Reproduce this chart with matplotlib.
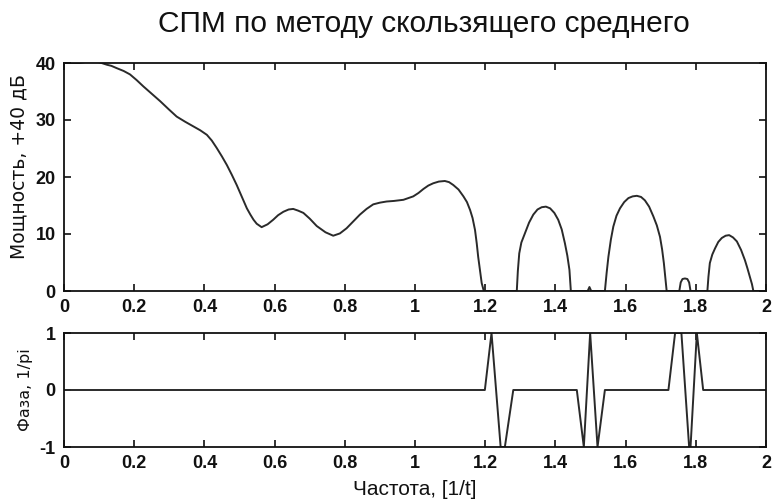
import numpy as np
import matplotlib.pyplot as plt
from matplotlib.ticker import FormatStrFormatter, MultipleLocator

plt.rcParams['font.family'] = ['Liberation Sans', 'DejaVu Sans']

# power spectrum, dB (+40), moving-average estimate
freq_p = [0.0, 0.02, 0.04, 0.046, 0.07, 0.09, 0.107, 0.122, 0.135, 0.150, 0.170,
          0.188, 0.207, 0.226, 0.250, 0.274, 0.298, 0.321, 0.345, 0.368, 0.388,
          0.407, 0.421, 0.435, 0.450, 0.464, 0.478, 0.492, 0.507, 0.521, 0.531,
          0.540, 0.549, 0.563, 0.580, 0.596, 0.610, 0.625, 0.640, 0.653, 0.667,
          0.682, 0.700, 0.720, 0.745, 0.767, 0.786, 0.805, 0.824, 0.843, 0.862,
          0.881, 0.900, 0.919, 0.940, 0.967, 0.995, 1.010, 1.024, 1.038, 1.052,
          1.068, 1.085, 1.097, 1.109, 1.124, 1.138, 1.148, 1.157, 1.164, 1.171,
          1.176, 1.180, 1.185, 1.190, 1.196,
          1.290, 1.293, 1.297, 1.303, 1.313, 1.325, 1.337, 1.349, 1.361, 1.373,
          1.385, 1.397, 1.408, 1.418, 1.427, 1.434, 1.440, 1.444,
          1.492, 1.497, 1.502,
          1.541, 1.546, 1.551, 1.558, 1.565, 1.574, 1.584, 1.596, 1.608, 1.620,
          1.632, 1.644, 1.655, 1.667, 1.679, 1.689, 1.698, 1.704, 1.709, 1.713,
          1.717,
          1.753, 1.757, 1.762, 1.769, 1.776, 1.781, 1.785,
          1.833, 1.836, 1.840, 1.847, 1.855, 1.864, 1.874, 1.885, 1.895, 1.906,
          1.917, 1.929, 1.940, 1.947, 1.954, 1.960, 1.964, 2.0]
power = [40.0, 40.0, 40.0, 40.0, 40.3, 40.3, 40.0, 39.7, 39.5, 39.1, 38.6,
         38.0, 37.0, 35.9, 34.6, 33.3, 31.9, 30.6, 29.7, 28.9, 28.2,
         27.4, 26.4, 25.1, 23.6, 22.1, 20.4, 18.6, 16.5, 14.5, 13.4,
         12.5, 11.8, 11.2, 11.7, 12.5, 13.3, 13.9, 14.3, 14.4, 14.1,
         13.7, 12.7, 11.4, 10.3, 9.7, 10.1, 11.0, 12.2, 13.4, 14.4,
         15.2, 15.5, 15.7, 15.8, 16.0, 16.6, 17.2, 17.9, 18.5, 18.9,
         19.2, 19.3, 19.1, 18.6, 17.8, 16.6, 15.6, 14.2, 12.8, 10.7,
         8.3, 6.0, 3.7, 1.4, 0.0,
         0.0, 3.5, 6.6, 8.5, 10.1, 12.0, 13.4, 14.3, 14.7, 14.8,
         14.5, 13.7, 12.5, 10.8, 8.4, 6.2, 3.7, 0.0,
         0.0, 0.7, 0.0,
         0.0, 3.2, 6.0, 9.0, 11.3, 13.2, 14.5, 15.6, 16.3, 16.6,
         16.7, 16.5, 15.9, 14.8, 13.1, 11.5, 9.5, 7.3, 4.9, 2.5,
         0.0,
         0.0, 1.5, 2.1, 2.2, 2.1, 1.5, 0.0,
         0.0, 2.5, 4.9, 6.4, 7.5, 8.6, 9.3, 9.7, 9.8, 9.4,
         8.7, 7.2, 5.4, 4.0, 2.5, 1.2, 0.0, 0.0]

# phase, units of pi
freq_ph = [0.0, 1.199, 1.218, 1.244, 1.256, 1.280, 1.461, 1.481, 1.499, 1.520,
           1.541, 1.722, 1.741, 1.759, 1.781, 1.785, 1.803, 1.821, 2.0]
phase = [0.0, 0.0, 1.0, -1.0, -1.0, 0.0, 0.0, -1.0, 1.0, -1.0,
         0.0, 0.0, 1.0, 1.0, -1.0, -1.0, 1.0, 0.0, 0.0]

W, H = 773, 499
fig = plt.figure(figsize=(W / 100, H / 100), dpi=100)

left, right = 64, 766
ax1 = fig.add_axes([left / W, 1 - 291 / H, (right - left) / W, (291 - 63) / H])
ax2 = fig.add_axes([left / W, 1 - 447 / H, (right - left) / W, (447 - 333) / H])

line_kw = dict(color='#2a2a2a', lw=1.4)
ax1.plot(freq_p, power, **line_kw)
ax2.plot(freq_ph, phase, **line_kw)

ax1.set_ylim(0, 40)
ax1.yaxis.set_major_locator(MultipleLocator(10))
ax2.set_ylim(-1, 1)
ax2.yaxis.set_major_locator(MultipleLocator(1))

for ax in (ax1, ax2):
    ax.set_xlim(0, 2)
    ax.xaxis.set_major_locator(MultipleLocator(0.2))
    ax.xaxis.set_major_formatter(FormatStrFormatter('%g'))
    ax.yaxis.set_major_formatter(FormatStrFormatter('%g'))
    ax.tick_params(direction='in', top=True, right=True, length=5, width=1.2,
                   labelsize=13, pad=6, colors='#111111')
    for lab in ax.get_xticklabels() + ax.get_yticklabels():
        lab.set_fontweight('bold')
    for sp in ax.spines.values():
        sp.set_linewidth(1.3)
        sp.set_color('#111111')

# wide face for the rotated labels
wide = ['DejaVu Sans']
ax1.set_ylabel('Мощность, +40 дБ', fontsize=13.5, family=wide, color='#111111')
ax1.yaxis.set_label_coords(-0.051, 0.548)
ax2.set_ylabel('Фаза, 1/pi', fontsize=11.5, family=wide, color='#111111')
ax2.yaxis.set_label_coords(-0.044, 0.5)
ax2.set_xlabel('Частота, [1/t]', fontsize=15, color='#111111')
ax2.xaxis.set_label_coords(0.5, -0.29)

fig.text(0.548, 1 - 24 / H, 'СПМ по методу скользящего среднего',
         fontsize=21.5, ha='center', va='center', color='#111111')

fig.savefig('out.png', dpi=100)
